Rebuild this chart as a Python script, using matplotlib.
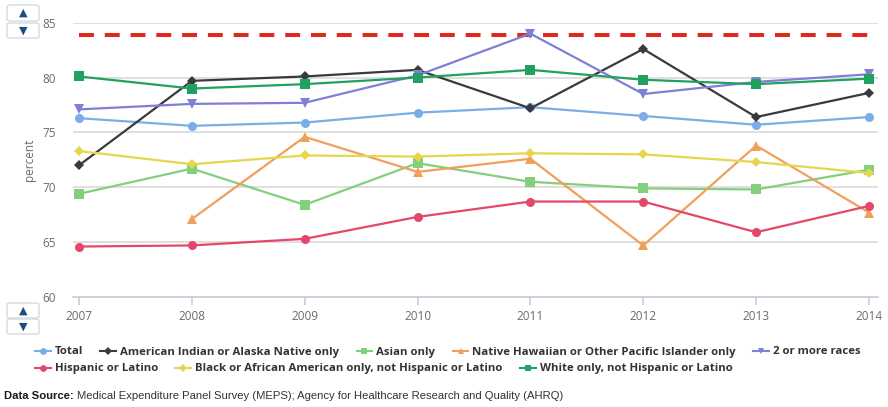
import matplotlib
matplotlib.use("Agg")
import matplotlib.pyplot as plt
from matplotlib.patches import FancyBboxPatch
from matplotlib.lines import Line2D

# ---- data -------------------------------------------------------------
years = [2007, 2008, 2009, 2010, 2011, 2012, 2013, 2014]

total = [76.3, 75.6, 75.9, 76.8, 77.3, 76.5, 75.7, 76.4]
aian = [72.0, 79.7, 80.1, 80.7, 77.2, 82.6, 76.4, 78.6]
asian = [69.4, 71.7, 68.4, 72.2, 70.5, 69.9, 69.8, 71.6]
nhpi = [None, 67.1, 74.6, 71.4, 72.6, 64.7, 73.8, 67.7]
two_plus = [77.1, 77.6, 77.7, 80.2, 84.0, 78.5, 79.6, 80.3]
hispanic = [64.6, 64.7, 65.3, 67.3, 68.7, 68.7, 65.9, 68.3]
black = [73.3, 72.1, 72.9, 72.8, 73.1, 73.0, 72.3, 71.3]
white = [80.1, 79.0, 79.4, 80.0, 80.7, 79.8, 79.4, 79.9]

target = 83.9

series_names = [
    "Total",
    "American Indian or Alaska Native only",
    "Asian only",
    "Native Hawaiian or Other Pacific Islander only",
    "2 or more races",
    "Hispanic or Latino",
    "Black or African American only, not Hispanic or Latino",
    "White only, not Hispanic or Latino",
]
series_values = [total, aian, asian, nhpi, two_plus, hispanic, black, white]
series_colors = ["#7aaee6", "#3a3a3e", "#82cf7e", "#f0a05a",
                 "#7f7fd8", "#e5476a", "#e6d64e", "#22a060"]
series_markers = ["o", "D", "s", "^", "v", "o", "D", "s"]
marker_sizes = [6.5, 5, 6.5, 6.5, 6.5, 6.5, 5, 6.5]

y_ticks = [60, 65, 70, 75, 80, 85]

# ---- figure -----------------------------------------------------------
W, H = 888, 407
fig = plt.figure(figsize=(W / 100, H / 100), dpi=100)
fig.patch.set_facecolor("white")

ax_left, ax_right = 73 / W, 878 / W
ax_bottom, ax_top = 1 - 297 / H, 1 - 22.7 / H
ax = fig.add_axes([ax_left, ax_bottom, ax_right - ax_left, ax_top - ax_bottom])

ax.set_xlim(2006.947, 2014.08)
ax.set_ylim(60, 85)

# gridlines
for v in y_ticks[1:]:
    ax.axhline(v, color="#d9d9d9", lw=1.2, zorder=0)

# target line
ax.plot([years[0], years[-1]], [target, target], color="#e0281e", lw=2.9,
        dashes=(3.7, 2.7), solid_capstyle="butt", dash_capstyle="butt", zorder=2)

handles = []
for name, vals, col, mk, ms in zip(series_names, series_values, series_colors,
                                    series_markers, marker_sizes):
    xs = [x for x, v in zip(years, vals) if v is not None]
    ys = [v for v in vals if v is not None]
    ax.plot(xs, ys, color=col, lw=1.6, marker=mk, markersize=ms,
            markeredgewidth=0, zorder=3)
    handles.append(Line2D([], [], color=col, lw=1.5, marker=mk,
                          markersize=ms * 0.75, markeredgewidth=0))

# axes styling
for s in ["top", "right", "left"]:
    ax.spines[s].set_visible(False)
ax.spines["bottom"].set_color("#c0ccd8")
ax.spines["bottom"].set_linewidth(1.2)

ax.set_xticks(years)
ax.set_xticklabels([str(y) for y in years])
ax.set_yticks(y_ticks)
ax.tick_params(axis="x", colors="#c0ccd8", length=6, width=1.1,
               labelcolor="#6b6b6b", labelsize=8.5, pad=3)
ax.tick_params(axis="y", length=0, labelcolor="#6b6b6b", labelsize=8.5, pad=12)
for lbl in ax.get_xticklabels() + ax.get_yticklabels():
    lbl.set_fontfamily("Open Sans")

ax.set_ylabel("percent", color="#6b6b6b", fontsize=8.5, fontfamily="Open Sans")
ax.yaxis.set_label_coords(-0.046, 0.5)

# ---- legend: two rows of flowing entries --------------------------------
leg_kw = dict(frameon=False, borderpad=0, borderaxespad=0, handlelength=1.4,
              handletextpad=0.35, columnspacing=1.5,
              prop={"family": "Open Sans", "weight": "bold", "size": 8.2},
              labelcolor="#333333")
row1 = fig.legend(handles[:5], series_names[:5], ncol=5, loc="center left",
                  bbox_to_anchor=(35 / W, 1 - 352 / H), **leg_kw)
row2 = fig.legend(handles[5:], series_names[5:], ncol=3, loc="center left",
                  bbox_to_anchor=(35 / W, 1 - 369 / H), **leg_kw)

# ---- source note --------------------------------------------------------
src = fig.text(4 / W, 1 - 396 / H, "Data Source:", fontsize=8.15,
               fontweight="bold", fontfamily="Liberation Sans", color="#1a1a1a",
               va="center", ha="left")
fig.canvas.draw()
bb = src.get_window_extent()
fig.text((bb.x1 + 3) / W, 1 - 396 / H,
         "Medical Expenditure Panel Survey (MEPS); Agency for Healthcare "
         "Research and Quality (AHRQ)",
         fontsize=8.15, fontfamily="Liberation Sans", color="#333333",
         va="center", ha="left")

# ---- axis scroll buttons ------------------------------------------------
def button(y0, y1, symbol):
    x0, x1 = 7, 39
    box = FancyBboxPatch((x0 / W, 1 - y1 / H), (x1 - x0) / W, (y1 - y0) / H,
                         boxstyle="round,pad=0,rounding_size=0.004",
                         transform=fig.transFigure, facecolor="white",
                         edgecolor="#cfd6de", lw=0.9)
    fig.add_artist(box)
    fig.text((x0 + x1) / 2 / W, 1 - (y0 + y1) / 2 / H, symbol, fontsize=8,
             color="#1b4e7c", ha="center", va="center", fontfamily="DejaVu Sans")

button(5, 21, "▲")
button(23, 38, "▼")
button(303, 318, "▲")
button(319, 334, "▼")

fig.savefig("out.png", dpi=100, facecolor="white")
